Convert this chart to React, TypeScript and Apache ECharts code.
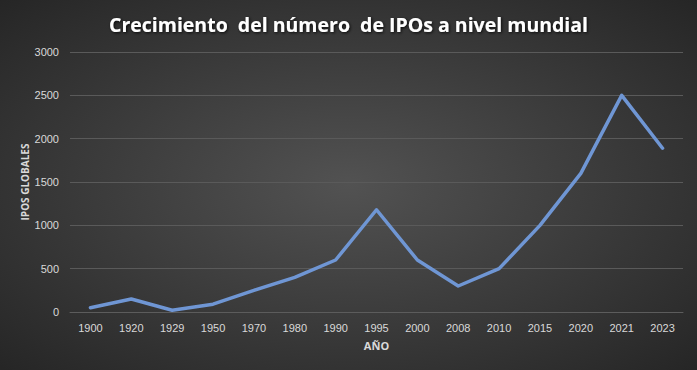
import React, { useEffect, useRef } from "react";
import * as echarts from "echarts";

const years = ["1900", "1920", "1929", "1950", "1970", "1980", "1990", "1995", "2000", "2008", "2010", "2015", "2020", "2021", "2023"];
const ipos = [50, 150, 20, 90, 250, 400, 600, 1180, 600, 300, 500, 1000, 1600, 2500, 1890];

const titleText = "Crecimiento  del número  de IPOs a nivel mundial";
const yName = "IPOS GLOBALES";
const xName = "AÑO";

export default function App() {
  const ref = useRef<HTMLDivElement>(null);
  useEffect(() => {
    if (!ref.current) return;
    const chart = echarts.init(ref.current, undefined, { renderer: "svg" });
    chart.setOption({
      animation: false,
      backgroundColor: {
        type: "radial",
        x: 0.5,
        y: 0.5,
        r: 0.75,
        colorStops: [
          { offset: 0, color: "#525252" },
          { offset: 1, color: "#232323" },
        ],
      },
      title: {
        text: titleText,
        left: "center",
        top: 9,
        textStyle: {
          color: "#ffffff",
          fontFamily: "Open Sans",
          fontWeight: "bold",
          fontSize: 19.5,
          textShadowColor: "rgba(0,0,0,0.8)",
          textShadowBlur: 3,
          textShadowOffsetX: 1,
          textShadowOffsetY: 1,
        },
      },
      grid: { left: 70, right: 14, top: 52, bottom: 58 },
      xAxis: {
        type: "category",
        data: years,
        boundaryGap: true,
        name: xName,
        nameLocation: "middle",
        nameGap: 28,
        nameMoveOverlap: false,
        nameTextStyle: { color: "#d9d9d9", fontSize: 11, fontWeight: "bold", fontFamily: "Open Sans" },
        axisLine: { lineStyle: { color: "#5c5c5c", width: 1 } },
        axisTick: { show: false },
        axisLabel: { color: "#d9d9d9", fontSize: 11, fontFamily: "Liberation Sans", margin: 10 },
      },
      yAxis: {
        type: "value",
        min: 0,
        max: 3000,
        interval: 500,
        name: yName,
        nameLocation: "middle",
        nameGap: 40,
        nameMoveOverlap: false,
        nameTextStyle: { color: "#d9d9d9", fontSize: 10, fontWeight: "bold", fontFamily: "Open Sans" },
        axisLine: { show: false },
        axisTick: { show: false },
        axisLabel: { color: "#d9d9d9", fontSize: 11, fontFamily: "Liberation Sans", margin: 11, formatter: (v: number) => String(v) },
        splitLine: { lineStyle: { color: "#5a5a5a", width: 1 } },
      },
      series: [
        {
          type: "line",
          data: ipos,
          symbol: "none",
          lineStyle: { color: "#6f96d4", width: 3.5, cap: "round", join: "round" },
        },
      ],
    });
    return () => chart.dispose();
  }, []);
  return <div ref={ref} style={{ position: "absolute", left: 0, top: 0, width: 697, height: 370 }} />;
}
